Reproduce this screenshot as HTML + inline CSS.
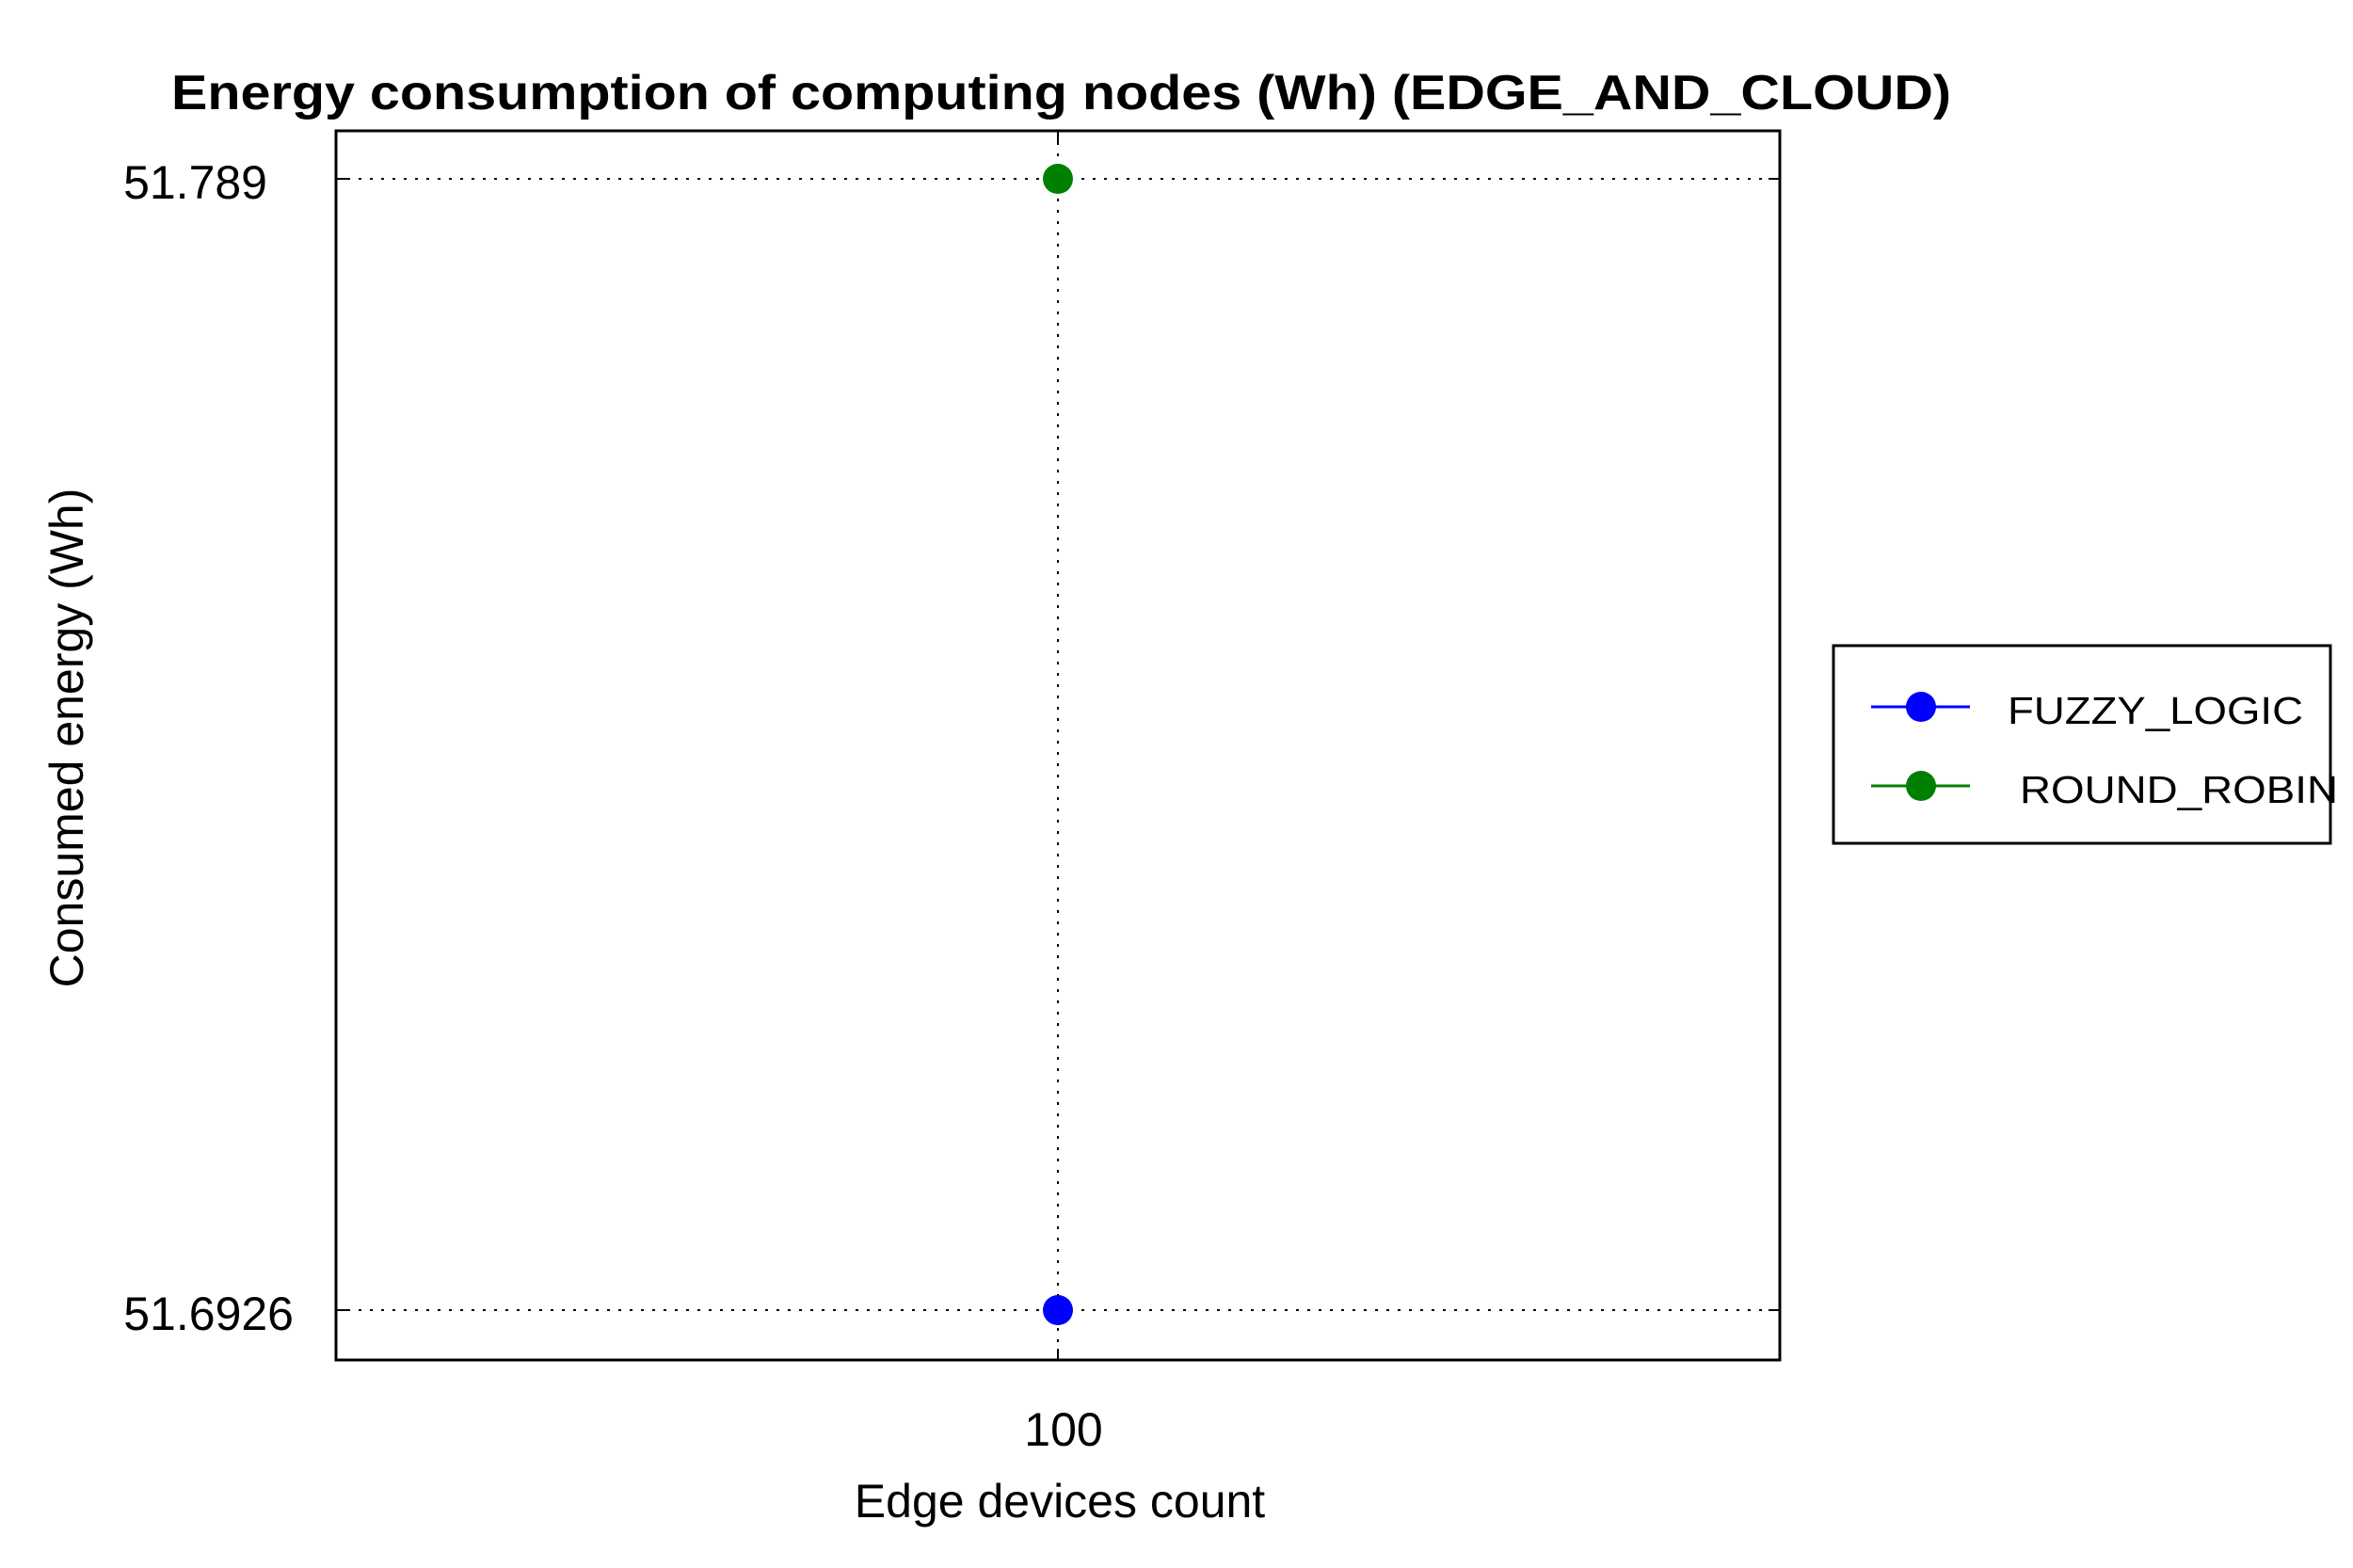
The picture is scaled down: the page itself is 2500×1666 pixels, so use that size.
<!DOCTYPE html>
<html><head><style>html,body{margin:0;padding:0;background:#fff}svg{display:block}</style></head>
<body>
<svg width="2500" height="1666" viewBox="0 0 2500 1666" xmlns="http://www.w3.org/2000/svg" font-family="Liberation Sans, Arial, sans-serif">
<rect width="2500" height="1666" fill="#fff"/>
<text x="182" y="116" font-size="52" font-weight="bold" textLength="1891" lengthAdjust="spacingAndGlyphs">Energy consumption of computing nodes (Wh) (EDGE_AND_CLOUD)</text>
<g stroke="#000" stroke-width="2" stroke-dasharray="3,9">
<line x1="357" y1="190" x2="1891" y2="190"/>
<line x1="357" y1="1392" x2="1891" y2="1392"/>
<line x1="1124" y1="139" x2="1124" y2="1445"/>
</g>
<g stroke="#000" stroke-width="2">
<line x1="357" y1="190" x2="369" y2="190"/><line x1="1879" y1="190" x2="1891" y2="190"/>
<line x1="357" y1="1392" x2="369" y2="1392"/><line x1="1879" y1="1392" x2="1891" y2="1392"/>
<line x1="1124" y1="1433" x2="1124" y2="1445"/><line x1="1124" y1="139" x2="1124" y2="151"/>
</g>
<rect x="357" y="139" width="1534" height="1306" fill="none" stroke="#000" stroke-width="3"/>
<circle cx="1124" cy="190" r="16" fill="#008000"/>
<circle cx="1124" cy="1392" r="16" fill="#0000ff"/>
<g font-size="50" fill="#000">
<text x="284" y="211" text-anchor="end">51.789</text>
<text x="312" y="1413" text-anchor="end">51.6926</text>
<text x="1130" y="1536" text-anchor="middle">100</text>
<text x="1126" y="1612" text-anchor="middle">Edge devices count</text>
<text transform="translate(88,784) rotate(-90)" text-anchor="middle">Consumed energy (Wh)</text>
</g>
<rect x="1948" y="686" width="528" height="210" fill="#fff" stroke="#000" stroke-width="3"/>
<line x1="1988" y1="751" x2="2093" y2="751" stroke="#0000ff" stroke-width="3"/>
<circle cx="2041" cy="751" r="16" fill="#0000ff"/>
<line x1="1988" y1="835" x2="2093" y2="835" stroke="#008000" stroke-width="3"/>
<circle cx="2041" cy="835" r="16" fill="#008000"/>
<g font-size="41" fill="#000">
<text x="2133" y="769" textLength="314" lengthAdjust="spacingAndGlyphs">FUZZY_LOGIC</text>
<text x="2146" y="853" textLength="338" lengthAdjust="spacingAndGlyphs">ROUND_ROBIN</text>
</g>
</svg>
</body></html>
